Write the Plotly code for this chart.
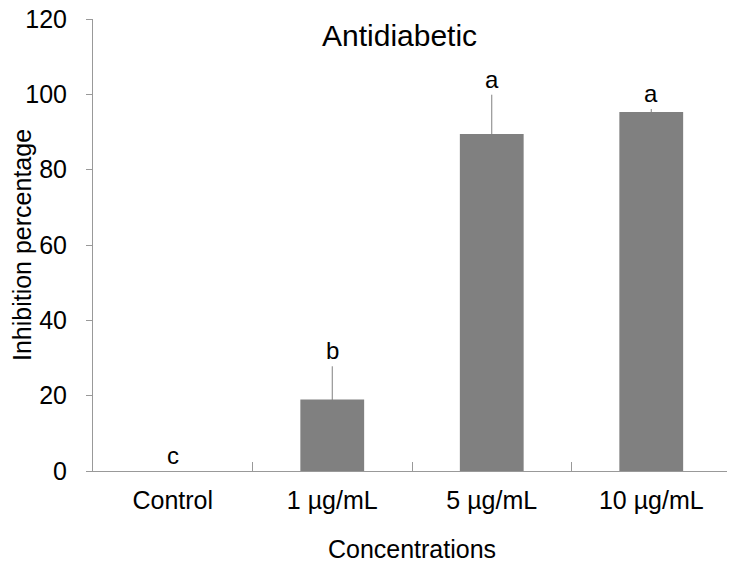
import plotly.graph_objects as go

categories = ["Control", "1 µg/mL", "5 µg/mL", "10 µg/mL"]
values = [0, 19.0, 89.5, 95.3]
errors = [0, 8.8, 10.4, 0.8]
letters = ["c", "b", "a", "a"]

FONT = "Liberation Sans, Arial, sans-serif"

fig = go.Figure()
fig.add_trace(go.Bar(
    x=categories, y=values,
    marker=dict(color="#808080", line=dict(width=0)),
    error_y=dict(type="data", array=errors, visible=True, color="#808080", thickness=1, width=0),
    showlegend=False,
))

for c, v, e, l in zip(categories, values, errors, letters):
    fig.add_annotation(x=c, y=v + e, text=l, showarrow=False, yanchor="bottom", yshift=0,
                       font=dict(family=FONT, size=24, color="black"))

fig.add_annotation(x=0.481, xref="paper", y=115.5, yref="y", text="Antidiabetic", showarrow=False,
                   yanchor="middle", font=dict(family=FONT, size=30, color="black"))

# the page body adds an 8px offset; size and margins compensate for it
fig.update_layout(
    width=727, height=555,
    margin=dict(l=85, r=4, t=11, b=92),
    paper_bgcolor="white", plot_bgcolor="white",
    bargap=0.6,
    font=dict(family=FONT, size=25, color="black"),
    xaxis=dict(
        title=dict(text="Concentrations", font=dict(size=25), standoff=27),
        showline=True, linecolor="#999999", linewidth=1,
        ticks="inside", tickson="boundaries", ticklen=9, tickcolor="#999999",
        showgrid=False, ticklabelstandoff=7, automargin=False,
    ),
    yaxis=dict(
        title=dict(text="Inhibition percentage", font=dict(size=25), standoff=14),
        range=[0, 120], tickvals=[0, 20, 40, 60, 80, 100, 120],
        showline=True, linecolor="#999999", linewidth=1,
        ticks="outside", ticklen=6, tickcolor="#999999",
        showgrid=False, zeroline=False, ticklabelstandoff=14, automargin=False,
        ticklabeloverflow="allow",
    ),
)

fig.write_html("out.html")
